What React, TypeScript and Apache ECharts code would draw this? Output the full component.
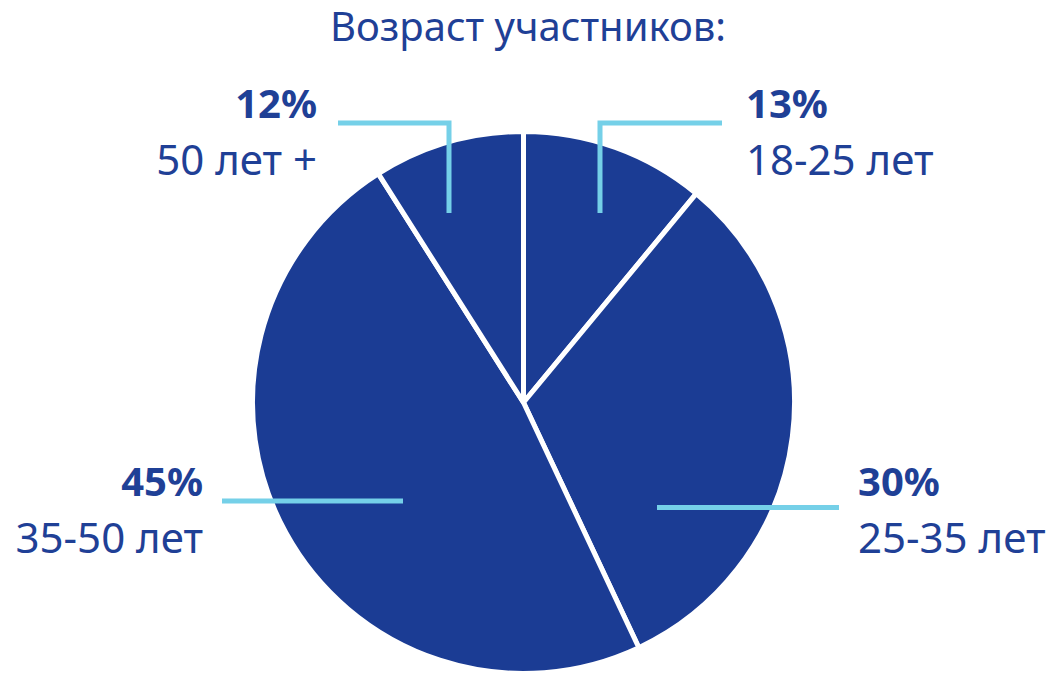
import React, { useEffect, useRef } from "react";
import * as echarts from "echarts";

// ---- data ----
const chartTitle = "Возраст участников:";
const categories = ["18-25 лет", "25-35 лет", "35-50 лет", "50 лет +"];
const shares = [11, 32, 48, 9];
// percentages printed on the labels
const percentLabels = ["13%", "30%", "45%", "12%"];

// ---- layout / style (not data) ----
const SLICE_COLOR = "#1b3c94";
const TEXT_COLOR = "#1f4096";
const LEADER_COLOR = "#75d0e8";
const FONT = "'Noto Sans', 'Open Sans', sans-serif";
const CENTER = [523.5, 402.5];
const RADIUS = 271;

const labelGeometry: { line: number[][]; x: number; y: number; align: string }[] = [
  { line: [[600, 213], [600, 123], [722, 123]], x: 746, y: 130, align: "left" },
  { line: [[657, 507.5], [839, 507.5]], x: 858, y: 508, align: "left" },
  { line: [[403, 501], [222, 501]], x: 203, y: 508, align: "right" },
  { line: [[449, 213], [449, 123], [338, 123]], x: 317, y: 130, align: "right" },
];

export default function App() {
  const ref = useRef<HTMLDivElement>(null);

  useEffect(() => {
    document.body.style.margin = "0";
    if (!ref.current) return;
    const chart = echarts.init(ref.current, null, { renderer: "svg" });

    const data = categories.map((name, i) => ({ name, value: shares[i] }));

    chart.setOption({
      animation: false,
      backgroundColor: "#ffffff",
      title: {
        text: chartTitle,
        left: 528,
        textAlign: "center",
        top: 2,
        padding: 0,
        textStyle: {
          color: TEXT_COLOR,
          fontFamily: FONT,
          fontWeight: "normal",
          fontSize: 40,
          lineHeight: 46,
        },
      },
      series: [
        {
          type: "pie",
          silent: true,
          z: 2,
          center: CENTER,
          radius: RADIUS,
          startAngle: 90,
          clockwise: true,
          data,
          itemStyle: {
            color: SLICE_COLOR,
            borderColor: "#ffffff",
            borderWidth: 5,
          },
          label: { show: false },
          labelLine: { show: false },
        },
        {
          // same slices, invisible, carrying labels and leader lines on top
          type: "pie",
          silent: true,
          z: 5,
          center: CENTER,
          radius: RADIUS,
          startAngle: 90,
          clockwise: true,
          data,
          itemStyle: {
            color: "rgba(0,0,0,0)",
            borderWidth: 0,
          },
          label: {
            show: true,
            position: "outside",
            formatter: (p: any) => `{a|${percentLabels[p.dataIndex]}}\n{b|${p.name}}`,
            rich: {
              a: {
                fontFamily: FONT,
                fontWeight: "bold",
                fontSize: 40,
                lineHeight: 56,
                color: TEXT_COLOR,
              },
              b: {
                fontFamily: FONT,
                fontWeight: "normal",
                fontSize: 42,
                lineHeight: 56,
                color: TEXT_COLOR,
              },
            },
          },
          labelLine: {
            show: true,
            showAbove: true,
            smooth: false,
            lineStyle: {
              color: LEADER_COLOR,
              width: 5,
              cap: "butt",
              join: "miter",
            },
          },
          labelLayout: (params: any) => {
            const g = labelGeometry[params.dataIndex];
            return {
              x: g.x,
              y: g.y,
              align: g.align,
              verticalAlign: "middle",
              labelLinePoints: g.line,
            };
          },
        },
      ],
    });

    return () => chart.dispose();
  }, []);

  return <div ref={ref} style={{ width: 1053, height: 673 }} />;
}
